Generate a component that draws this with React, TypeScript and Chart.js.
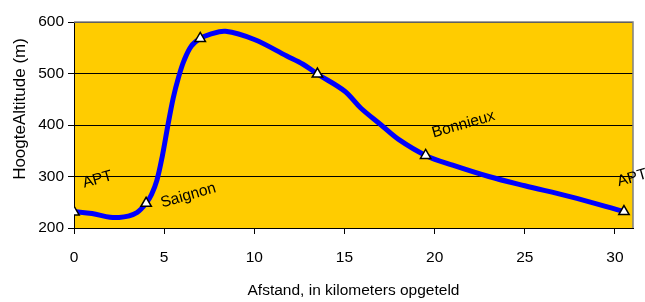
import { useEffect, useRef } from 'react';
import { Chart, registerables } from 'chart.js';

Chart.register(...registerables);

const FONT = "'Liberation Sans', Arial, sans-serif";

// Profile of the route (distance in km, altitude in m)
const distanceKm = [0, 1, 2, 2.5, 3, 3.5, 4, 4.3, 4.6, 4.9, 5.2, 5.5, 5.8, 6.1, 6.5, 7, 7.53, 8.4, 10, 11.8, 12.7, 13.5, 15, 15.9, 17, 18, 19.5, 21, 23, 25, 27.5, 30.5];
const altitudeM = [232, 228, 221, 220.5, 223, 230, 248, 265, 293, 340, 398, 452, 493, 525, 553, 568, 576, 582, 566, 534, 518, 499, 466, 433, 401, 372, 341, 322, 300, 282, 261, 232];

// Marked waypoints
const markerKm = [0, 4, 7, 13.5, 19.5, 30.5];
const markerAlt = [231, 248, 568, 499, 341, 232];

// Place names (anchored in data units)
const placeNames = ['APT', 'Saignon', 'Bonnieux', 'APT'];
const placeKm = [1.3, 6.34, 21.6, 30.95];
const placeAlt = [294, 263, 401, 297];

// Ticks
const xTicks = [0, 5, 10, 15, 20, 25, 30];
const yTicks = [200, 300, 400, 500, 600];

const xTitle = 'Afstand, in kilometers opgeteld';
const yTitle = 'HoogteAltitude (m)';

export default function App() {
  const ref = useRef<HTMLCanvasElement>(null);

  useEffect(() => {
    document.body.style.margin = '0';
    const canvas = ref.current;
    if (!canvas) return;

    const decor = {
      id: 'decor',
      beforeDraw(chart: any) {
        const { ctx, chartArea: a } = chart;
        ctx.save();
        ctx.fillStyle = '#FFCC00';
        ctx.fillRect(a.left, a.top, a.right - a.left, a.bottom - a.top);
        ctx.restore();
      },
      beforeDatasetsDraw(chart: any) {
        const { ctx, chartArea: a } = chart;
        ctx.save();
        ctx.strokeStyle = '#808080';
        ctx.lineWidth = 1.5;
        ctx.beginPath();
        ctx.moveTo(a.left, a.top);
        ctx.lineTo(a.right, a.top);
        ctx.lineTo(a.right, a.bottom);
        ctx.stroke();
        ctx.restore();
      },
      afterDraw(chart: any) {
        const { ctx, chartArea: a, scales } = chart;
        ctx.save();
        ctx.fillStyle = '#000';
        ctx.font = `15.5px ${FONT}`;
        ctx.textAlign = 'center';
        ctx.textBaseline = 'middle';
        for (let i = 0; i < placeNames.length; i++) {
          const px = scales.x.getPixelForValue(placeKm[i]);
          const py = scales.y.getPixelForValue(placeAlt[i]);
          ctx.save();
          ctx.translate(px, py);
          ctx.rotate((-16 * Math.PI) / 180);
          ctx.fillText(placeNames[i], 0, 0);
          ctx.restore();
        }
        // y axis title
        ctx.font = `17px ${FONT}`;
        ctx.save();
        ctx.translate(20, (a.top + a.bottom) / 2 - 16);
        ctx.rotate(-Math.PI / 2);
        ctx.fillText(yTitle, 0, 0);
        ctx.restore();
        ctx.restore();
      },
    };

    const chart = new Chart(canvas, {
      type: 'line',
      data: {
        datasets: [
          {
            label: 'profile',
            data: distanceKm.map((x, i) => ({ x, y: altitudeM[i] })),
            borderColor: '#0000FF',
            borderWidth: 5,
            pointRadius: 0,
            tension: 0.35,
            fill: false,
            order: 2,
          },
          {
            label: 'waypoints',
            data: markerKm.map((x, i) => ({ x, y: markerAlt[i] })),
            showLine: false,
            pointStyle: 'triangle',
            pointRadius: 6,
            pointBackgroundColor: '#FFFFFF',
            pointBorderColor: '#000000',
            pointBorderWidth: 1.5,
            order: 1,
          },
        ],
      },
      plugins: [decor],
      options: {
        animation: false,
        responsive: false,
        devicePixelRatio: 1,
        layout: { padding: { top: 22, right: 12, bottom: 0, left: 0 } },
        plugins: { legend: { display: false }, tooltip: { enabled: false } },
        scales: {
          x: {
            type: 'linear',
            min: 0,
            max: 31,
            afterBuildTicks: (s: any) => {
              s.ticks = xTicks.map((v) => ({ value: v }));
            },
            afterFit: (s: any) => {
              s.height = 74;
            },
            grid: { drawOnChartArea: false, drawTicks: true, tickLength: 6, color: '#000' },
            border: { color: '#000', width: 1 },
            ticks: { font: { size: 15.5, family: FONT }, color: '#000', padding: 14, maxRotation: 0 },
            title: { display: true, text: xTitle, font: { size: 15.5, family: FONT }, color: '#000', padding: { top: 0, bottom: 2 } },
          },
          y: {
            type: 'linear',
            min: 200,
            max: 600,
            afterBuildTicks: (s: any) => {
              s.ticks = yTicks.map((v) => ({ value: v }));
            },
            afterFit: (s: any) => {
              s.width = 74;
            },
            grid: { drawOnChartArea: true, drawTicks: true, tickLength: 6, color: '#000', lineWidth: 1 },
            border: { color: '#000', width: 1 },
            ticks: { font: { size: 15.5, family: FONT }, color: '#000', padding: 4 },
          },
        },
      },
    } as any);

    return () => chart.destroy();
  }, []);

  return <canvas ref={ref} width={645} height={302} style={{ display: 'block', width: 645, height: 302 }} />;
}
